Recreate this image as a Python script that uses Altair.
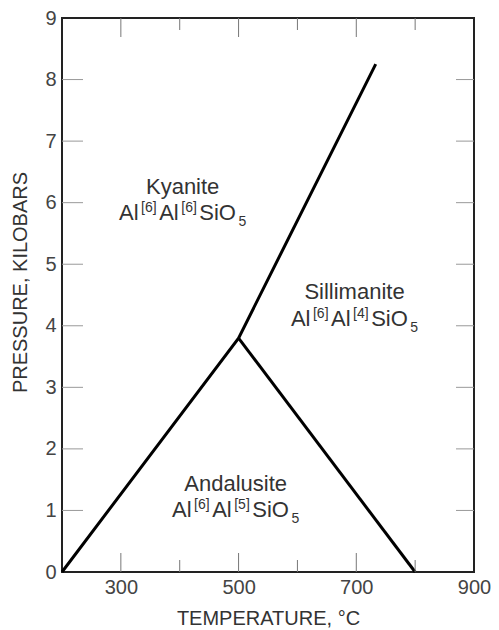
import altair as alt
import pandas as pd

# ---- data ----
# phase boundaries (temperature °C, pressure kbar)
ky_and_sil_T = [200, 500, 733]
ky_and_sil_P = [0, 3.8, 8.25]
and_sil_T = [500, 800]
and_sil_P = [3.8, 0]

# mineral labels
mineral_names = ["Kyanite", "Sillimanite", "Andalusite"]
label_T = [405, 697, 495]
name_P = [6.14, 4.43, 1.31]
formula_P = [5.72, 3.99, 0.89]
coord_numbers = [("6", "6"), ("6", "4"), ("6", "5")]

x_tick_values = [300, 400, 500, 600, 700, 800]
x_label_values = [300, 500, 700, 900]
y_tick_values = [1, 2, 3, 4, 5, 6, 7, 8]
y_label_values = [0, 1, 2, 3, 4, 5, 6, 7, 8, 9]

W, H = 412, 554
FONT = "Liberation Sans"
TXT = "#333333"

xs = alt.Scale(domain=[200, 900], nice=False, zero=False)
ys = alt.Scale(domain=[0, 9], nice=False, zero=False)

lines_df = pd.DataFrame(
    {"T": ky_and_sil_T + and_sil_T,
     "P": ky_and_sil_P + and_sil_P,
     "seg": ["a"] * len(ky_and_sil_T) + ["b"] * len(and_sil_T),
     "order": list(range(len(ky_and_sil_T))) + list(range(len(and_sil_T)))}
)

base_axes = alt.Chart(lines_df).mark_line(color="black", strokeWidth=3).encode(
    x=alt.X("T:Q", scale=xs,
            axis=alt.Axis(values=x_label_values, title="TEMPERATURE, °C",
                          format="d",
                          grid=False, domain=False, ticks=False,
                          labelFont=FONT, labelFontSize=20, labelColor="#444",
                          labelPadding=5, labelFlush=False,
                          titleFont=FONT, titleFontSize=20, titleFontWeight="normal",
                          titleColor="#333", titleY=46, titleBaseline="middle")),
    y=alt.Y("P:Q", scale=ys,
            axis=alt.Axis(values=y_label_values, title="PRESSURE, KILOBARS",
                          format="d",
                          grid=False, domain=False, ticks=False,
                          labelFont=FONT, labelFontSize=20, labelColor="#444",
                          labelPadding=6, labelFlush=False,
                          titleFont=FONT, titleFontSize=20, titleFontWeight="normal",
                          titleColor="#333", titleX=-42, titleY=264,
                          titleBaseline="middle", titleAngle=-90, titleAlign="center")),
    detail="seg:N",
    order="order:Q",
)

xt_df = pd.DataFrame({"T": x_tick_values,
                      "major": [v % 200 == 100 for v in x_tick_values]})
yt_df = pd.DataFrame({"P": y_tick_values})

tick_color = "#777"
bottom_major = alt.Chart(xt_df).transform_filter("datum.major").mark_rule(
    color=tick_color, strokeWidth=1).encode(
    x=alt.X("T:Q", scale=xs), y=alt.value(H), y2=alt.value(H - 19))
bottom_minor = alt.Chart(xt_df).transform_filter("!datum.major").mark_rule(
    color=tick_color, strokeWidth=1).encode(
    x=alt.X("T:Q", scale=xs), y=alt.value(H), y2=alt.value(H - 12))
top_major = alt.Chart(xt_df).transform_filter("datum.major").mark_rule(
    color=tick_color, strokeWidth=1).encode(
    x=alt.X("T:Q", scale=xs), y=alt.value(0), y2=alt.value(19))
top_minor = alt.Chart(xt_df).transform_filter("!datum.major").mark_rule(
    color=tick_color, strokeWidth=1).encode(
    x=alt.X("T:Q", scale=xs), y=alt.value(0), y2=alt.value(12))
left_ticks = alt.Chart(yt_df).mark_rule(color="#999", strokeWidth=1).encode(
    y=alt.Y("P:Q", scale=ys), x=alt.value(0), x2=alt.value(21))
right_ticks = alt.Chart(yt_df).mark_rule(color="#999", strokeWidth=1).encode(
    y=alt.Y("P:Q", scale=ys), x=alt.value(W), x2=alt.value(W - 18))

names_df = pd.DataFrame({"name": mineral_names, "T": label_T, "P": name_P})
names = alt.Chart(names_df).mark_text(
    font=FONT, fontSize=22, color=TXT, align="center", baseline="alphabetic"
).encode(x=alt.X("T:Q", scale=xs), y=alt.Y("P:Q", scale=ys), text="name:N")

# formula pieces: Al [a] Al [b] SiO 5
BASE, SMALL, GAP = 22, 14, 2.5
cw = {"A": .667, "l": .222, "S": .667, "i": .222, "O": .778,
      "[": .278, "]": .278}
def width(s, size):
    return sum(cw.get(c, .556) for c in s) * size

rows = []
for i, (a, b) in enumerate(coord_numbers):
    pieces = [("Al", "base"), (f"[{a}]", "sup"), ("Al", "base"),
              (f"[{b}]", "sup"), ("SiO", "base"), ("5", "sub")]
    widths = [width(t, BASE if k == "base" else SMALL) for t, k in pieces]
    total = sum(widths) + GAP * (len(pieces) - 1)
    x0 = -total / 2
    for (t, k), w in zip(pieces, widths):
        rows.append({"txt": t, "kind": k, "T": label_T[i], "P": formula_P[i], "dx": x0})
        x0 += w + GAP
f_df = pd.DataFrame(rows)

formula_layers = []
for kind, size, dy in [("base", BASE, 0), ("sup", SMALL, -8), ("sub", SMALL, 6)]:
    sub = f_df[f_df.kind == kind]
    for _, r in sub.iterrows():
        formula_layers.append(
            alt.Chart(pd.DataFrame([r])).mark_text(
                font=FONT, fontSize=size, color=TXT, align="left",
                baseline="alphabetic", dx=float(r.dx), dy=dy
            ).encode(x=alt.X("T:Q", scale=xs), y=alt.Y("P:Q", scale=ys), text="txt:N")
        )

chart = alt.layer(
    base_axes, bottom_major, bottom_minor, top_major, top_minor,
    left_ticks, right_ticks, names, *formula_layers
).properties(
    width=W, height=H,
    autosize=alt.AutoSizeParams(type="none"),
    padding={"left": 54, "top": 10, "right": 17, "bottom": 58},
    background="white",
).configure_view(stroke="#222", strokeWidth=2)

chart.save("out.html", embed_options={"renderer": "svg", "actions": False})
